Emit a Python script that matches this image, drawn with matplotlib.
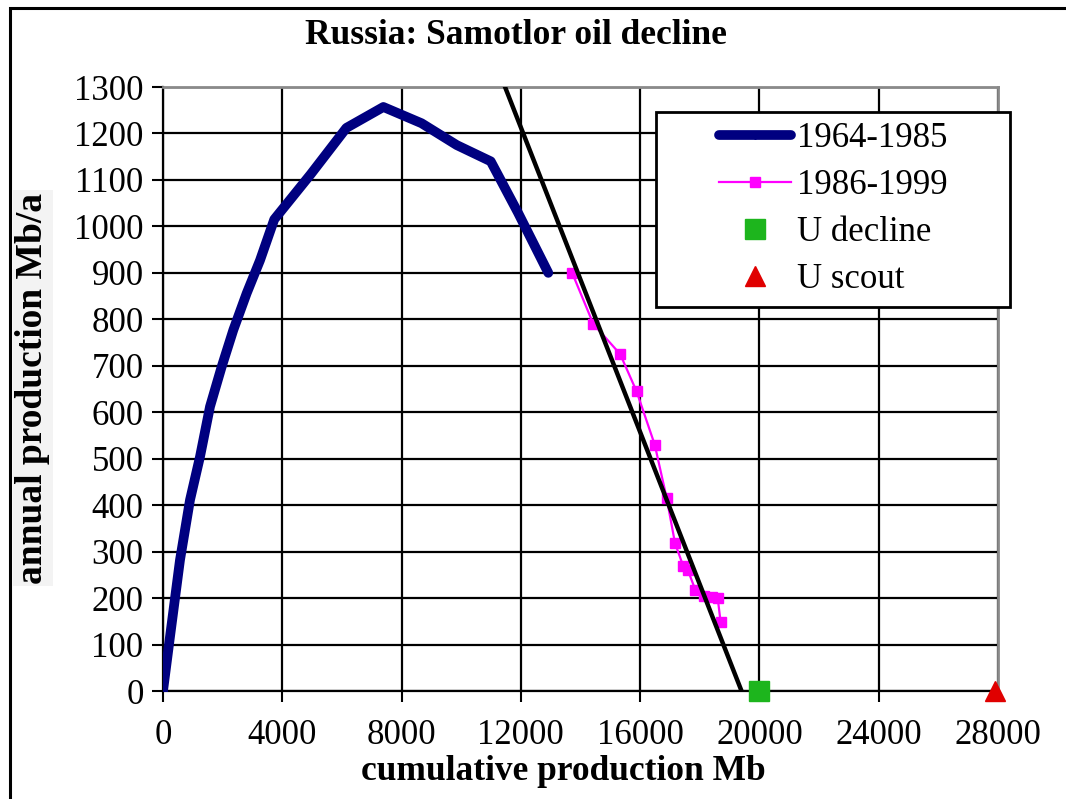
import matplotlib
matplotlib.use("Agg")
import matplotlib.pyplot as plt
from matplotlib.patches import Rectangle
from matplotlib.legend_handler import HandlerLine2D

# --- data ---
cum_early = [0, 235, 570, 905, 1240, 1576, 1968, 2358, 2806, 3253, 3730, 4950, 6150,
             7390, 8670, 9850, 10990, 11900, 12920]
prod_early = [0, 117, 282, 411, 504, 612, 698, 777, 856, 927, 1015, 1112, 1212,
              1257, 1222, 1175, 1140, 1030, 900]

cum_late = [13720, 14430, 15330, 15880, 16490, 16890, 17170, 17450, 17600, 17850, 18150, 18400, 18600, 18700]
prod_late = [900, 790, 725, 645, 530, 415, 318, 268, 260, 218, 205, 202, 200, 148]

decline_x = [11470, 19400]
decline_y = [1300, 0]

u_decline_x = [20000]
u_decline_y = [0]
u_scout_x = [27900]
u_scout_y = [0]

xticks = [0, 4000, 8000, 12000, 16000, 20000, 24000, 28000]
yticks = list(range(0, 1301, 100))

plt.rcParams['font.family'] = ['Liberation Serif', 'DejaVu Serif']

W, H = 1066, 799
fig = plt.figure(figsize=(W / 100, H / 100), dpi=100)
ax = fig.add_axes([163 / W, 1 - 691 / H, (998 - 163) / W, (691 - 87) / H])

ax.set_xlim(0, 28000)
ax.set_ylim(0, 1300)
ax.set_xticks(xticks)
ax.set_yticks(yticks)
ax.tick_params(axis='both', labelsize=25, direction='out', length=8, width=1.5, colors='black')
ax.tick_params(axis='x', pad=12)
ax.tick_params(axis='y', pad=6)
ax.grid(True, color='black', lw=1.6)
ax.set_axisbelow(True)
for s in ['left', 'bottom']:
    ax.spines[s].set_color('black')
    ax.spines[s].set_linewidth(1.6)
for s in ['top', 'right']:
    ax.spines[s].set_color('#8a8a8a')
    ax.spines[s].set_linewidth(2)

l1, = ax.plot(cum_early, prod_early, color='#000080', lw=7, solid_capstyle='round',
              solid_joinstyle='round', marker='D', ms=4, markevery=[0], label='1964-1985', zorder=4)
l2, = ax.plot(cum_late, prod_late, color='#ff00ff', lw=1.6, marker='s', ms=7.5,
              label='1986-1999', zorder=5)
ax.plot(decline_x, decline_y, color='black', lw=3.2, zorder=6, clip_on=True)
l3, = ax.plot(u_decline_x, u_decline_y, ls='none', marker='s', ms=14, color='#1db51d',
              label='U decline', zorder=7, clip_on=False)
l4, = ax.plot(u_scout_x, u_scout_y, ls='none', marker='^', ms=14, color='#e00000',
              label='U scout', zorder=7, clip_on=False)

fs_leg = 25
x0 = (656 - 163) / (998 - 163)
y1 = (691 - 112) / (691 - 87)
x1 = (1010 - 163) / (998 - 163)
hm = {l: HandlerLine2D(xpad=1.5) for l in [l1, l2, l3, l4]}
leg = ax.legend(handles=[l1, l2, l3, l4], loc='upper left',
                bbox_to_anchor=(x0, y1 - 0.5, x1 - x0, 0.5), mode='expand',
                fontsize=fs_leg, frameon=True, fancybox=False, framealpha=1,
                edgecolor='black', borderpad=0.3, labelspacing=0.4,
                handlelength=3.6, handletextpad=0.15, borderaxespad=0,
                handler_map=hm)
leg.get_frame().set_linewidth(2)
leg.set_zorder(10)

fig.text(516 / W, 1 - 35 / H, 'Russia: Samotlor oil decline', ha='center', va='center',
         fontsize=25.5, fontweight='bold')
fig.text(563 / W, 1 - 772 / H, 'cumulative production Mb', ha='center', va='center',
         fontsize=25.5, fontweight='bold')
fig.text(33 / W, 1 - 388 / H, 'annual production Mb/a', ha='center', va='center',
         rotation=90, fontsize=27, fontweight='bold',
         bbox=dict(facecolor='#f3f3f3', edgecolor='none', pad=2))

# outer frame (left and top visible)
fig.patches.append(Rectangle((10 / W, -0.05), 1.2, 1 - 8 / H + 0.05, transform=fig.transFigure,
                             fill=False, edgecolor='black', lw=2.2))

fig.savefig('out.png', dpi=100)
